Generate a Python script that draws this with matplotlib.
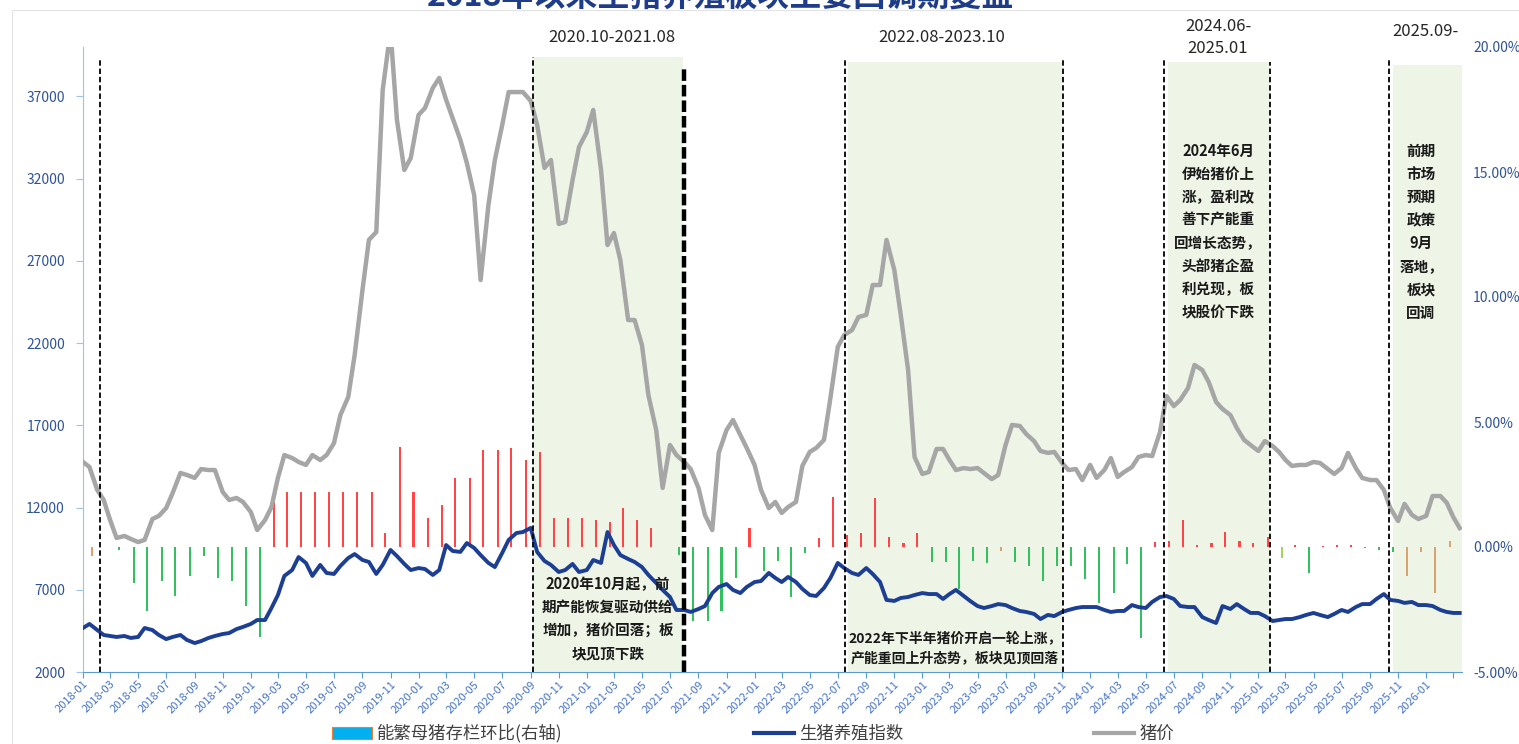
import numpy as np
import pandas as pd
import matplotlib
matplotlib.use("Agg")
import matplotlib.pyplot as plt
import matplotlib.dates as mdates
from matplotlib.lines import Line2D
from matplotlib.patches import Patch, Rectangle
from matplotlib.ticker import FuncFormatter, MultipleLocator, FixedLocator

plt.rcParams['font.family'] = ['Noto Sans CJK SC', 'DejaVu Sans']

# ---------------- data (semi-monthly samples) ----------------
dates = pd.date_range("2018-01-01", "2026-03-15", freq="SMS")

pig_price = [
    14770, 14465, 13070, 12460, 11240, 10150, 10270, 10090, 9900, 10030,
    11300, 11490, 11970, 12880, 14100, 13980, 13800, 14340, 14280, 14280,
    12940, 12460, 12580, 12340, 11730, 10630, 11240, 12030, 13800, 15190,
    15010, 14770, 14590, 15190, 14890, 15190, 15920, 17630, 18720, 21270,
    25230, 28270, 28750, 37390, 41000, 35560, 32520, 33250, 35870, 36290,
    37510, 38120, 36780, 35680, 34350, 32950, 31000, 25830, 30390, 33130,
    35260, 37260, 37260, 37260, 36720, 35260, 32650, 33130, 29240, 29360,
    31910, 33920, 34830, 36170, 32520, 27960, 28690, 27050, 23400, 23400,
    21880, 18840, 16710, 13190, 15800, 15190, 14770, 14340, 13190, 11550,
    10630, 15320, 16710, 17320, 16410, 15620, 14590, 13070, 11970, 12340,
    11670, 12030, 12340, 14530, 15380, 15620, 16110, 18660, 21760, 22490,
    22790, 23580, 23710, 25530, 25530, 28270, 26440, 23710, 20360, 15070,
    14040, 14160, 15560, 15560, 14890, 14280, 14400, 14340, 14400, 14100,
    13730, 13980, 15800, 17020, 16960, 16470, 16040, 15440, 15320, 15380,
    14710, 14280, 14340, 13670, 14590, 13800, 14280, 15010, 13860, 14160,
    14460, 15070, 15190, 15130, 16590, 18780, 18170, 18540, 19270, 20670,
    20360, 19630, 18420, 17990, 17630, 16840, 16110, 15800, 15440, 16040,
    15740, 15380, 14890, 14530, 14590, 14590, 14770, 14710, 14340, 14040,
    14400, 15320, 14400, 13800, 13670, 13670, 13070, 11970, 11180, 12220,
    11550, 11300, 11490, 12700, 12700, 12280, 11420, 10750,
]

pig_index = [
    4675, 4920, 4550, 4250, 4190, 4130, 4190, 4070, 4130, 4675,
    4550, 4250, 4000, 4130, 4250, 3950, 3760, 3880, 4070, 4190,
    4310, 4370, 4610, 4740, 4920, 5160, 5160, 5890, 6680, 7840,
    8200, 8990, 8630, 7840, 8510, 8020, 7960, 8450, 8930, 9170,
    8810, 8690, 7960, 8510, 9420, 9050, 8570, 8200, 8320, 8260,
    7900, 8200, 9720, 9360, 9300, 9840, 9540, 9110, 8630, 8380,
    9240, 10030, 10450, 10510, 10760, 9300, 8750, 8510, 8080, 8200,
    8570, 8080, 8200, 8810, 8630, 10510, 9720, 9110, 8870, 8690,
    8380, 7900, 7410, 6990, 6560, 5770, 5770, 5650, 5830, 6010,
    6800, 7170, 7350, 6990, 6800, 7170, 7470, 7530, 8020, 7720,
    7470, 7780, 7470, 7050, 6680, 6620, 7110, 7720, 8630, 8320,
    8020, 7900, 8320, 7960, 7470, 6380, 6320, 6500, 6560, 6680,
    6800, 6740, 6740, 6440, 6740, 6990, 6620, 6320, 6010, 5890,
    6010, 6130, 6070, 5890, 5710, 5650, 5530, 5220, 5470, 5400,
    5650, 5770, 5890, 5950, 5950, 5950, 5770, 5650, 5710, 5710,
    6070, 5950, 5890, 6260, 6560, 6620, 6440, 6010, 5950, 5950,
    5340, 5160, 4980, 6010, 5830, 6130, 5830, 5590, 5590, 5400,
    5100, 5160, 5220, 5220, 5340, 5470, 5590, 5470, 5340, 5530,
    5770, 5650, 5950, 6130, 6130, 6440, 6740, 6380, 6320, 6200,
    6260, 6070, 6070, 6010, 5770, 5650, 5590, 5590,
]

# monthly sow inventory month-on-month change, %
sow_months = pd.date_range("2018-01-01", periods=98, freq="MS")
sow_mom = [
    -0.35, np.nan, -0.10, -1.45, -2.55, -1.35, -1.95, -1.15, -0.35, -1.25,
    -1.35, -2.35, -3.60, 2.20, 2.20, 2.20, 2.20, 2.20, 2.20, 2.20,
    2.20, 0.57, 4.00, 2.20, 1.17, 1.67, 2.77, 2.77, 3.87, 3.87,
    3.96, 3.48, 3.79, 1.17, 1.17, 1.17, 1.08, 0.99, 1.57, 1.08,
    0.77, np.nan, -0.30, -2.96, -2.96, -2.55, -1.25, 0.75, -0.96, -0.56,
    -1.99, -0.25, 0.35, 1.99, 0.48, 0.57, 1.97, 0.39, 0.16, 0.57,
    -0.59, -0.61, -1.69, -0.56, -0.65, -0.15, -0.61, -0.75, -1.36, -0.75,
    -0.75, -1.28, -2.23, -1.85, -0.68, -3.65, 0.20, 0.25, 1.08, 0.10,
    0.15, 0.59, 0.25, 0.17, 0.39, -0.43, 0.10, -1.05, 0.05, 0.10,
    0.10, -0.03, -0.10, -0.20, -1.15, -0.20, -1.85, 0.25,
]

# review periods
period_spans = [("2020-09-06", "2021-07-30"), ("2022-07-23", "2023-10-31"),
                ("2024-06-18", "2025-01-26"), ("2025-10-20", "2026-03-19")]
period_labels = ["2020.10-2021.08", "2022.08-2023.10", "2024.06-\n2025.01", "2025.09-"]
divider_dates = ["2018-02-07", "2020-09-06", "2022-07-16", "2023-11-03",
                 "2024-06-09", "2025-01-26", "2025-10-12"]
thick_divider = "2021-07-31"

left_ticks = [2000, 7000, 12000, 17000, 22000, 27000, 32000, 37000]
tick_months = pd.date_range("2018-01-01", "2026-03-01", freq="2MS")

# ---------------- style ----------------
BLUE_TXT = "#2f5496"
C_RED = "#ff4545"
C_GREEN = "#33c15f"
C_TAN = "#d9a36e"
C_LIME = "#a9d25a"
SHADE = "#eef5e7"
tan_idx = [0, 65, 94, 95, 96, 97]
lime_idx = [85]

fig = plt.figure(figsize=(15.19, 7.44), dpi=100)
fig.patch.set_facecolor("white")
ax = fig.add_axes([83 / 1519, 72 / 744, 1379 / 1519, 625 / 744])
ax2 = ax.twinx()
ax.set_zorder(2)
ax2.set_zorder(1)
ax.patch.set_visible(False)

x0 = mdates.date2num(pd.Timestamp("2018-01-01"))
ax.set_xlim(x0, x0 + 3000)
ax.set_ylim(2000, 40000)
ax2.set_ylim(-5, 20)

# shading
shade_tops = [0.984, 0.976, 0.976, 0.971]
for (s, e), top in zip(period_spans, shade_tops):
    ax2.axvspan(pd.Timestamp(s), pd.Timestamp(e), ymin=0, ymax=top,
                color=SHADE, zorder=0, lw=0)

# bars
bar_x = sow_months + pd.Timedelta(days=20)
colors = []
for i, v in enumerate(sow_mom):
    if i in tan_idx:
        colors.append(C_TAN)
    elif i in lime_idx:
        colors.append(C_LIME)
    elif v >= 0:
        colors.append(C_RED)
    else:
        colors.append(C_GREEN)
vals = np.array(sow_mom, dtype=float)
ok = ~np.isnan(vals)
ax2.bar(bar_x[ok], vals[ok], width=4.5, color=np.array(colors)[ok],
        zorder=2, linewidth=0)

# lines
ax.plot(dates, pig_price, color="#a6a6a6", lw=3.2, zorder=3,
        solid_joinstyle="round")
ax.plot(dates, pig_index, color="#1c3f94", lw=2.8, zorder=4,
        solid_joinstyle="round")

# dashed dividers
divider_tops = [0.979, 0.984, 0.979, 0.979, 0.979, 0.976, 0.979]
for d, top in zip(divider_dates, divider_tops):
    ax.axvline(pd.Timestamp(d), ymin=0, ymax=top, color="black", lw=1.3,
               linestyle=(0, (3, 1.6)), zorder=5)
ax.axvline(pd.Timestamp(thick_divider), ymin=0, ymax=0.966, color="black",
           lw=3.2, linestyle=(0, (2.6, 0.9)), zorder=5)

# period labels above the plot
label_pos = [(0.3836, 1.016), (0.6229, 1.0144), (0.8231, 1.015), (0.9735, 1.0256)]
for txt, (px, py) in zip(period_labels, label_pos):
    ax.text(px, py, txt, transform=ax.transAxes, ha="center", va="center",
            fontsize=12, color="#262626", linespacing=1.35, zorder=6)

# annotations
notes = [
    ("2020年10月起，前\n期产能恢复驱动供给\n增加，猪价回落；板\n块见顶下跌", 0.3807, 0.0848, 10.5),
    ("2022年下半年猪价开启一轮上涨，\n产能重回上升态势，板块见顶回落", 0.6323, 0.0384, 10),
    ("2024年6月\n伊始猪价上\n涨，盈利改\n善下产能重\n回增长态势，\n头部猪企盈\n利兑现，板\n块股价下跌", 0.8231, 0.7048, 10.5),
    ("前期\n市场\n预期\n政策\n9月\n落地，\n板块\n回调", 0.9703, 0.7048, 10.5),
]
for txt, px, py, fs in notes:
    ax.text(px, py, txt, transform=ax.transAxes, ha="center", va="center",
            multialignment="center", fontsize=fs, weight="bold",
            color="#1a1a1a", linespacing=1.55, zorder=6)

# axes styling
ax.xaxis.set_major_locator(FixedLocator(mdates.date2num(tick_months)))
ax.xaxis.set_major_formatter(FuncFormatter(
    lambda v, p: "" if mdates.num2date(v).year == 2026 and mdates.num2date(v).month > 1
    else mdates.num2date(v).strftime("%Y-%m")))
ax.yaxis.set_major_locator(FixedLocator(left_ticks))
ax2.yaxis.set_major_locator(MultipleLocator(5))
ax2.yaxis.set_major_formatter(FuncFormatter(lambda v, p: f"{v:.2f}%"))

for lab in ax.get_xticklabels():
    lab.set_rotation(45)
    lab.set_ha("right")
    lab.set_rotation_mode("anchor")
ax.tick_params(axis="x", direction="out", length=4, color="#5b9bd5",
               labelsize=8, labelcolor="#4472c4", pad=1)
ax.tick_params(axis="y", direction="out", length=5, color="#9dc3e6",
               labelsize=10, labelcolor=BLUE_TXT, pad=8)
ax2.tick_params(axis="y", length=0, labelsize=10, labelcolor=BLUE_TXT, pad=8)

for side in ["top", "right"]:
    ax.spines[side].set_visible(False)
ax.spines["left"].set_color("#9dc3e6")
ax.spines["bottom"].set_color("#5b9bd5")
for side in ax2.spines:
    ax2.spines[side].set_visible(False)

# legend
handles = [
    Patch(facecolor="#00b0f0", edgecolor="#ed7d31", linewidth=0.8),
    Line2D([0], [0], color="#1c3f94", lw=3),
    Line2D([0], [0], color="#a6a6a6", lw=3),
]
labels = ["能繁母猪存栏环比(右轴)", "生猪养殖指数", "猪价"]
fig.legend(handles, labels, ncol=3, frameon=False, fontsize=12.5,
           loc="center", bbox_to_anchor=(0.4957, 0.014), columnspacing=11,
           handlelength=2.3, handletextpad=0.3, labelcolor="#404040")

# title (cut off at the top edge as in the source)
fig.text(721 / 1519, 1 - 7 / 744, "2018年以来生猪养殖板块主要回调期复盘",
         ha="center", va="baseline", fontsize=23, weight="bold", color="#1f3c88")

# faint chart-area border
fig.add_artist(Rectangle((12 / 1519, -0.01), 1.02, 1 - 10 / 744 + 0.01,
                         transform=fig.transFigure, fill=False,
                         edgecolor="#e3e3e3", lw=0.8))

fig.savefig("out.png", dpi=100)
